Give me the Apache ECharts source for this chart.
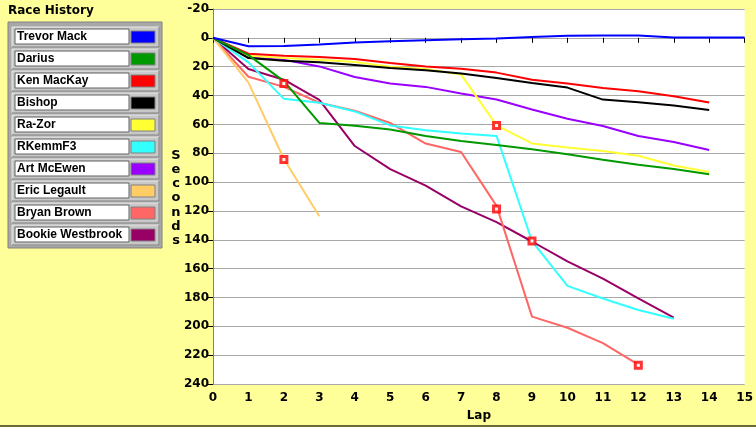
<!DOCTYPE html>
<html>
<head>
<meta charset="utf-8">
<script src="https://cdn.jsdelivr.net/npm/echarts@6/dist/echarts.min.js"></script>
<style>
  html, body { margin: 0; padding: 0; background: #ffff99; }
  #chart { width: 756px; height: 427px; }
</style>
</head>
<body>
<div id="chart"></div>
<script>
// lap numbers run 0..n for each driver, seconds behind leader
var laps = [0,1,2,3,4,5,6,7,8,9,10,11,12,13,14,15];
var drivers = ['Trevor Mack','Darius','Ken MacKay','Bishop','Ra-Zor','RKemmF3','Art McEwen','Eric Legault','Bryan Brown','Bookie Westbrook'];
var colors  = ['#0000ff','#009900','#ff0000','#000000','#ffff33','#33ffff','#9900ff','#ffcc66','#ff6666','#990066'];

var trevorMack  = [0, 5.8, 5.6, 4.6, 3.3, 2.4, 1.7, 1.0, 0.4, -0.6, -1.5, -1.6, -1.6, -0.3, -0.3, -0.3];
var darius      = [0, 12, 30, 59, 61, 63.5, 68, 71.5, 74.3, 77.2, 80.7, 84.5, 88, 91, 94.5];
var kenMacKay   = [0, 11, 12.4, 13.3, 14.7, 17.5, 19.8, 21.4, 24.1, 29, 31.7, 34.7, 37, 40.5, 44.8];
var bishop      = [0, 14, 15.9, 17, 18.9, 20.9, 22.5, 24.8, 27.8, 31.3, 34.5, 42.8, 44.6, 46.9, 50.1];
var raZor       = [0, 12.4, 14, 15.2, 16.7, 20, 21.6, 25.5, 60.7, 73.2, 76, 78.4, 81.8, 88.5, 93];
var rkemmF3     = [0, 17, 42.3, 45, 51, 60.7, 64.1, 66.4, 68, 141, 172, 180.7, 188.7, 194.8];
var artMcEwen   = [0, 13.5, 15.2, 19.8, 27.1, 31.7, 34, 38.6, 42.8, 49.7, 56.1, 61.1, 68, 72.2, 77.7];
var ericLegault = [0, 31, 84, 123.7];
var bryanBrown  = [0, 27, 34, 45, 50.5, 59, 73.3, 79.1, 116.5, 193.3, 201, 211.7, 226.5];
var bookie      = [0, 21.6, 29, 43, 75, 91, 102.5, 116.8, 127.8, 141.2, 155, 167, 180.7, 194];

// pit stop markers [lap, seconds]
var pitStops = [[2, 31.7], [2, 84.4], [8, 60.7], [8, 118.6], [9, 140.9], [12, 227]];

var yTicks = { min: -20, max: 240, step: 20 };

var allData = [trevorMack, darius, kenMacKay, bishop, raZor, rkemmF3, artMcEwen, ericLegault, bryanBrown, bookie];

var FONT = 'DejaVu Sans';
var LFONT = 'Liberation Sans';

var series = allData.map(function (vals, i) {
    return {
        name: drivers[i],
        type: 'line',
        symbol: 'none',
        animation: false,
        lineStyle: { color: colors[i], width: 2 },
        data: vals.map(function (v, k) { return [laps[k], v]; }),
        z: 10 - i
    };
});
series.push({
    name: 'pit',
    type: 'scatter',
    symbol: 'rect',
    symbolSize: 6,
    animation: false,
    itemStyle: { color: '#ffffff', borderColor: '#ff0000', borderWidth: 3 },
    data: pitStops,
    z: 20
});

// legend panel drawn as graphic
var legendEls = [
    { type: 'text', left: 8, top: 5, style: { text: 'Race History', font: 'bold 12px ' + FONT, fill: '#000' } },
    { type: 'rect', shape: { x: 8, y: 22, width: 154, height: 226 },
      style: { fill: '#a8a8a8', stroke: '#808080', lineWidth: 1 } }
];
drivers.forEach(function (name, i) {
    var y = 27 + i * 22;
    legendEls.push(
        { type: 'rect', shape: { x: 12, y: y, width: 147, height: 20 },
          style: { fill: '#c8c8c8', stroke: '#e8e8e8', lineWidth: 1 } },
        { type: 'polyline', shape: { points: [[12, y + 20], [159, y + 20], [159, y]] },
          style: { stroke: '#707070', lineWidth: 1, fill: null } },
        { type: 'rect', shape: { x: 15, y: y + 2, width: 114, height: 15 },
          style: { fill: '#ffffff', stroke: '#606060', lineWidth: 1 } },
        { type: 'text', x: 17, y: y + 10,
          style: { text: name, font: 'bold 12px ' + LFONT, fill: '#000', verticalAlign: 'middle' } },
        { type: 'rect', shape: { x: 131, y: y + 4, width: 24, height: 12 },
          style: { fill: colors[i], stroke: '#808080', lineWidth: 1 } }
    );
});
legendEls.push(
    { type: 'text', x: 176, y: 148,
      style: { text: 'S\ne\nc\no\nn\nd\ns', font: 'bold 13px ' + FONT, fill: '#000', align: 'center', lineHeight: 14.3 } },
    { type: 'line', shape: { x1: 0, y1: 426, x2: 756, y2: 426 }, style: { stroke: '#6b6b3a', lineWidth: 2 } }
);

var chart = echarts.init(document.getElementById('chart'));
chart.setOption({
    backgroundColor: '#ffff99',
    animation: false,
    grid: { left: 213, right: 11, top: 9, bottom: 41, show: true, backgroundColor: '#ffffff', borderWidth: 0 },
    xAxis: {
        type: 'value', min: 0, max: 15, interval: 1,
        name: 'Lap', nameLocation: 'middle', nameGap: 26,
        nameTextStyle: { fontFamily: FONT, fontWeight: 'bold', fontSize: 12, color: '#000' },
        axisLine: { show: false },
        axisTick: { show: true, length: 5, lineStyle: { color: '#000' } },
        axisLabel: { fontFamily: FONT, fontWeight: 'bold', fontSize: 12, color: '#000', margin: 8 },
        splitLine: { show: false }
    },
    yAxis: {
        type: 'value', inverse: true,
        min: yTicks.min, max: yTicks.max, interval: yTicks.step,
        axisLine: { show: true, lineStyle: { color: '#808080', width: 1 } },
        axisTick: { show: true, length: 5, lineStyle: { color: '#000' } },
        axisLabel: { fontFamily: FONT, fontWeight: 'bold', fontSize: 12, color: '#000', margin: 4 },
        splitLine: { show: true, lineStyle: { color: '#a8a8a8', width: 1 } }
    },
    graphic: legendEls,
    series: series
});
</script>
</body>
</html>
